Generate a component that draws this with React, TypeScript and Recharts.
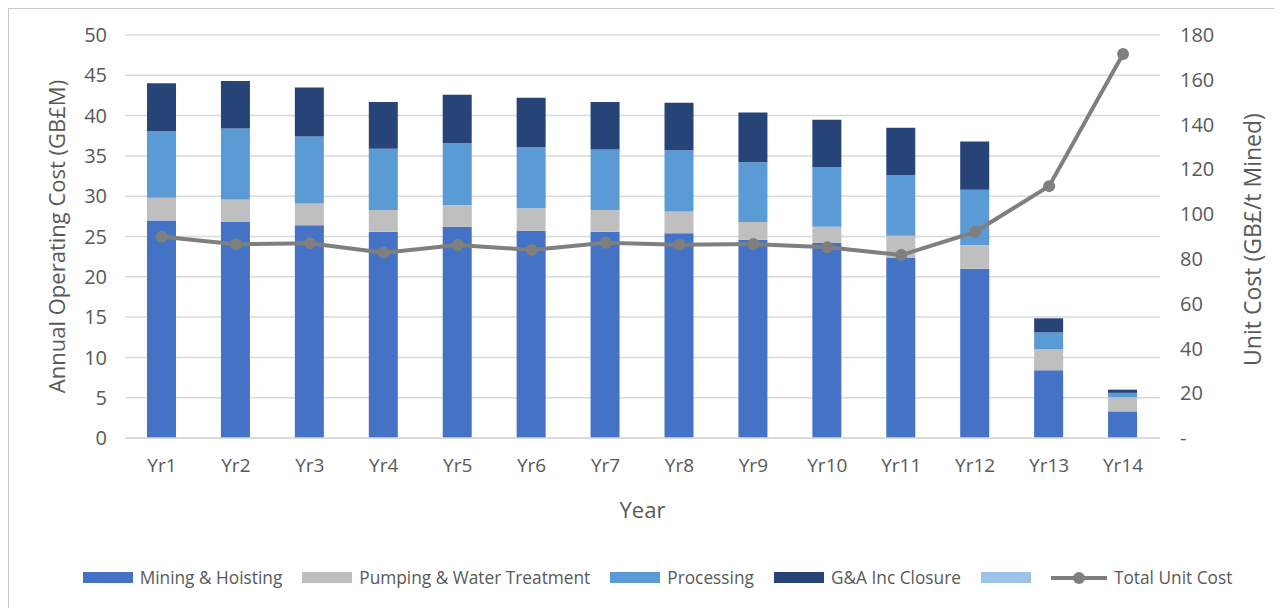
import {
  Bar,
  ComposedChart,
  Line,
  XAxis,
  YAxis,
  CartesianGrid,
  Label,
} from 'recharts'

const years = ['Yr1', 'Yr2', 'Yr3', 'Yr4', 'Yr5', 'Yr6', 'Yr7', 'Yr8', 'Yr9', 'Yr10', 'Yr11', 'Yr12', 'Yr13', 'Yr14']

// GB£M, per-segment amounts (read off the stacked bars)
const mining = [27.0, 26.8, 26.4, 25.6, 26.2, 25.7, 25.6, 25.4, 24.6, 24.2, 22.4, 21.0, 8.4, 3.3]
const pumping = [2.8, 2.8, 2.7, 2.7, 2.7, 2.8, 2.7, 2.7, 2.2, 2.0, 2.7, 2.9, 2.6, 1.75]
const processing = [8.3, 8.8, 8.3, 7.6, 7.7, 7.6, 7.5, 7.6, 7.4, 7.4, 7.5, 6.9, 2.1, 0.55]
const gaClosure = [5.9, 5.9, 6.1, 5.8, 6.0, 6.1, 5.9, 5.9, 6.2, 5.9, 5.9, 6.0, 1.75, 0.4]

// GB£/t mined
const unitCost = [89.9, 86.5, 87.0, 82.8, 86.2, 84.0, 87.2, 86.3, 86.6, 85.2, 81.7, 92.1, 112.5, 171.5]

const leftTicks = [0, 5, 10, 15, 20, 25, 30, 35, 40, 45, 50]
const rightTicks = [0, 20, 40, 60, 80, 100, 120, 140, 160, 180]

const legendItems = [
  { label: 'Mining & Hoisting', color: '#4472c4', kind: 'box' },
  { label: 'Pumping & Water Treatment', color: '#bfbfbf', kind: 'box' },
  { label: 'Processing', color: '#5b9bd5', kind: 'box' },
  { label: 'G&A Inc Closure', color: '#264478', kind: 'box' },
  { label: '', color: '#9dc3e6', kind: 'box' },
  { label: 'Total Unit Cost', color: '#7f7f7f', kind: 'line' },
]

const data = years.map((year, i) => ({
  year,
  mining: mining[i],
  pumping: pumping[i],
  processing: processing[i],
  ga: gaClosure[i],
  unit: unitCost[i],
}))

const FONT = '"Open Sans", "Noto Sans", sans-serif'
const TEXT = '#595959'

function ChartLegend() {
  return (
    <div
      style={{
        position: 'absolute',
        top: 557,
        left: 12,
        width: 1273,
        display: 'flex',
        justifyContent: 'center',
        alignItems: 'center',
        gap: 20,
        fontFamily: FONT,
        fontSize: 17.3,
        color: TEXT,
      }}
    >
      {legendItems.map((item, i) => (
        <div key={i} style={{ display: 'flex', alignItems: 'center', gap: 7 }}>
          {item.kind === 'box' ? (
            <span style={{ width: 50, height: 11, background: item.color, display: 'inline-block' }} />
          ) : (
            <svg width={56} height={14}>
              <line x1={0} y1={7} x2={56} y2={7} stroke={item.color} strokeWidth={4} />
              <circle cx={28} cy={7} r={6} fill={item.color} />
            </svg>
          )}
          {item.label && <span>{item.label}</span>}
        </div>
      ))}
    </div>
  )
}

export default function App() {
  return (
    <div
      style={{
        position: 'relative',
        width: 1290,
        height: 620,
        borderTop: '1px solid #c8c8c8',
        borderLeft: '1px solid #c8c8c8',
        background: '#fff',
      }}
    >
      <ComposedChart
        width={1273}
        height={599}
        data={data}
        margin={{ top: 26, right: 0, left: 0, bottom: 80 }}
        barSize={29}
      >
        <CartesianGrid vertical={false} stroke='#d9d9d9' strokeWidth={1.5} yAxisId='left' />
        <XAxis
          dataKey='year'
          height={90}
          tickLine={false}
          axisLine={{ stroke: '#d9d9d9', strokeWidth: 1.5 }}
          tickMargin={15}
          tick={{ fill: TEXT, fontSize: 19, fontFamily: FONT }}
        >
          <Label
            value='Year'
            position='insideBottom'
            offset={10}
            style={{ fill: TEXT, fontSize: 22, fontFamily: FONT }}
          />
        </XAxis>
        <YAxis
          yAxisId='left'
          width={116}
          domain={[0, 50]}
          ticks={leftTicks}
          interval={0}
          tickLine={false}
          axisLine={false}
          tickMargin={12}
          tick={{ fill: TEXT, fontSize: 20, fontFamily: FONT }}
        >
          <Label
            value='Annual Operating Cost (GB£M)'
            angle={-90}
            position='center'
            dx={-10}
            style={{ fill: TEXT, fontSize: 22, fontFamily: FONT, textAnchor: 'middle' }}
          />
        </YAxis>
        <YAxis
          yAxisId='right'
          orientation='right'
          width={122}
          domain={[0, 180]}
          ticks={rightTicks}
          interval={0}
          tickLine={false}
          axisLine={false}
          tickMargin={14}
          tickFormatter={(v) => (v === 0 ? '-' : `${v}`)}
          tick={{ fill: TEXT, fontSize: 20, fontFamily: FONT, textAnchor: 'start' }}
        >
          <Label
            value='Unit Cost (GB£/t Mined)'
            angle={-90}
            position='center'
            dx={32}
            dy={3}
            style={{ fill: TEXT, fontSize: 23, fontFamily: FONT, textAnchor: 'middle' }}
          />
        </YAxis>
        <Bar yAxisId='left' dataKey='mining' stackId='a' fill='#4472c4' name='Mining & Hoisting' isAnimationActive={false} />
        <Bar yAxisId='left' dataKey='pumping' stackId='a' fill='#bfbfbf' name='Pumping & Water Treatment' isAnimationActive={false} />
        <Bar yAxisId='left' dataKey='processing' stackId='a' fill='#5b9bd5' name='Processing' isAnimationActive={false} />
        <Bar yAxisId='left' dataKey='ga' stackId='a' fill='#264478' name='G&A Inc Closure' isAnimationActive={false} />
        <Line
          yAxisId='right'
          type='linear'
          dataKey='unit'
          stroke='#7f7f7f'
          strokeWidth={4}
          dot={{ r: 6, fill: '#7f7f7f', stroke: 'none' }}
          name='Total Unit Cost'
          isAnimationActive={false}
        />
      </ComposedChart>
      <ChartLegend />
    </div>
  )
}
